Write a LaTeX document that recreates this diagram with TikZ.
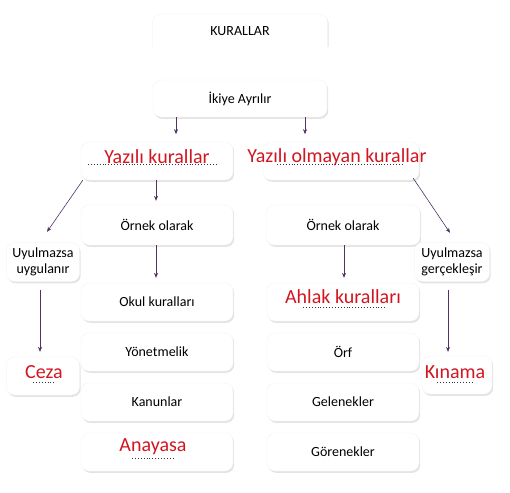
\documentclass[tikz,border=0pt]{standalone}
\usepackage{fontspec}
\setmainfont{Carlito}
\usetikzlibrary{shadows,arrows.meta}
\definecolor{arr}{RGB}{80,50,100}
\definecolor{redtxt}{RGB}{210,22,32}
\tikzset{
  box/.style={rounded corners=8pt, fill=white, draw=gray!12, line width=0.3pt,
    drop shadow={opacity=0.22, shadow xshift=1.2pt, shadow yshift=-1.8pt},
    minimum height=38pt, inner sep=1pt, align=center, font=\fontsize{14}{15}\selectfont},
  wide/.style={box, minimum width=152pt},
  small/.style={box, minimum width=73pt, font=\fontsize{14}{16.5}\selectfont},
  redt/.style={text=redtxt, font=\fontsize{20}{22}\selectfont},
  con/.style={draw=arr, line width=0.6pt, -{Stealth[length=5pt,width=4pt]}},
  dots/.style={dotted, line width=0.9pt, black!80}
}
\begin{document}
\begin{tikzpicture}[x=1pt,y=-1pt]
\useasboundingbox (0,0) rectangle (510,492);
% top box (cut off)
\node[box, minimum width=175pt, minimum height=42pt] (kur) at (240,35) {};
\fill[white] (135,47) rectangle (340,79);
\node[font=\fontsize{14}{15}\selectfont] (kurt) at (240,31) {KURALLAR};
\node[box, minimum width=174pt, minimum height=37pt] (iki) at (240,98.5) {İkiye Ayrılır};
% second level
\node[wide] (yk) at (157,161) {};
\node[redt] (ykt) at (157,157) {Yazılı kurallar};
\draw[dots] (88,164.5) -- (217,164.5);
\node[wide, minimum width=156pt] (yok) at (341,161) {};
\node[redt] (yokt) at (337,157) {Yazılı olmayan kurallar};
\draw[dots] (277,164.5) -- (403,164.5);
% Örnek olarak
\node[wide, minimum height=40pt] (ol) at (157,225) {Örnek olarak};
\node[wide, minimum width=154pt, minimum height=40pt] (or) at (343,225) {Örnek olarak};
% left column
\node[wide] (okul) at (157,302) {Okul kuralları};
\node[wide] (yon) at (157,352) {Yönetmelik};
\node[wide] (kan) at (157,402) {Kanunlar};
\node[wide] (ana) at (157,452) {};
\node[redt] (anat) at (153,447) {Anayasa};
\draw[dots] (132,458) -- (173,458);
% right column
\node[wide] (ahl) at (343,302) {};
\node[redt] (ahlt) at (343,297) {Ahlak kuralları};
\draw[dots] (303,307.5) -- (387,307.5);
\node[wide] (orf) at (343,352) {Örf};
\node[wide] (gel) at (343,402) {Gelenekler};
\node[wide] (gor) at (343,452) {Görenekler};
% side boxes
\node[small, minimum height=39pt] (uyl) at (43,262) {Uyulmazsa\\uygulanır};
\node[small, minimum width=75pt, minimum height=39pt] (uyr) at (452,262) {Uyulmazsa\\gerçekleşir};
\node[small] (ceza) at (43,376) {};
\node[redt] (cezat) at (44,372) {Ceza};
\draw[dots] (33,382) -- (55,382);
\node[small, minimum width=70pt] (kin) at (457,375) {};
\node[redt] (kint) at (455,372) {Kınama};
\draw[dots] (437,382) -- (473,382);
% connectors
\draw[con] ([xshift=-64pt]iki.south) -- ([xshift=-64pt,yshift=-17pt]iki.south);
\draw[con] ([xshift=65pt]iki.south) -- ([xshift=65pt,yshift=-17pt]iki.south);
\draw[con] ([xshift=-1pt]yk.south) -- ([xshift=-1pt,yshift=4pt]ol.north);
\draw[con] ([xshift=-1pt]ol.south) -- ([xshift=-1pt,yshift=5pt]okul.north);
\draw[con] ([xshift=1pt]or.south) -- ([xshift=1pt,yshift=5pt]ahl.north);
\draw[con] ([xshift=-3pt]uyl.south) ++(0,8) -- ([xshift=-3pt,yshift=5pt]ceza.north);
\draw[con] ([xshift=-4pt]uyr.south) ++(0,8) -- ([xshift=-9pt,yshift=4pt]kin.north);
\draw[con] (yk.south west) ++(2,0) -- ([xshift=4pt,yshift=10.5pt]uyl.north);
\draw[con] (yok.south east) ++(-6,-2) -- ([xshift=-2pt,yshift=9.5pt]uyr.north);
\end{tikzpicture}
\end{document}
